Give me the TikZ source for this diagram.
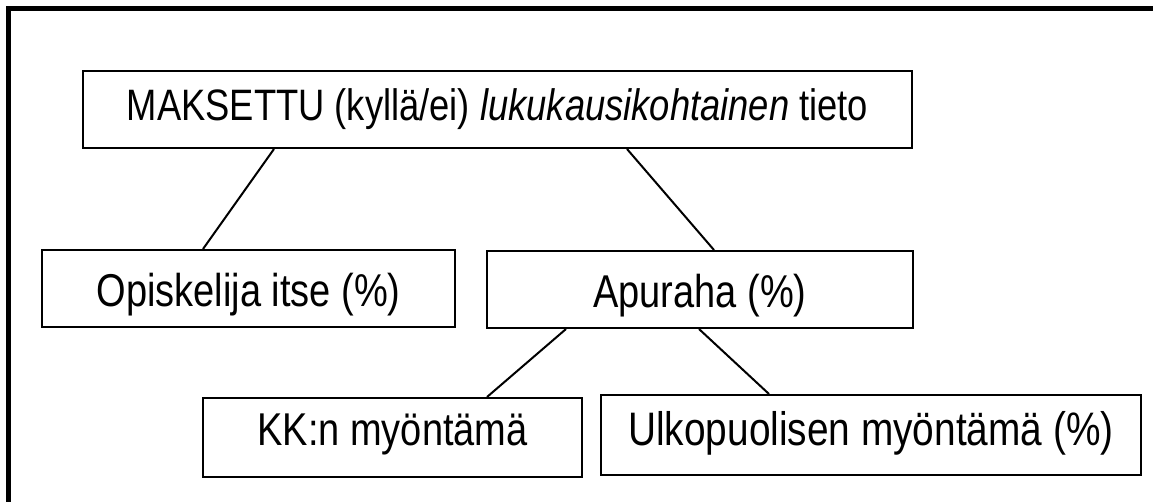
\documentclass[tikz,border=0pt]{standalone}
\usepackage{fontspec}
\setmainfont{Liberation Sans}[FakeStretch=0.826]
\usetikzlibrary{calc}
\tikzset{
  box/.style={draw=black, line width=2pt, rectangle, inner sep=0pt, fill=white, align=center},
  conn/.style={draw=black, line width=2pt},
  frame/.style={draw=black, line width=4.5pt, line join=miter}
}
\begin{document}
\begin{tikzpicture}[x=1pt,y=-1pt]
\useasboundingbox (0,0) rectangle (1153,501);
\fill[white] (0,0) rectangle (1153,501);
\draw[frame] (1160,8.5) -- (8.5,8.5) -- (8.5,510);

\node[box, minimum width=829pt, minimum height=77pt, text height=31pt, text depth=10pt,
  font=\fontsize{44}{50}\selectfont] (top) at (497.5,109.5)
  {MAKSETTU (kyllä/ei) \textit{lukukausikohtainen} tieto};
\node[box, minimum width=413pt, minimum height=77pt, text height=36pt, text depth=0pt,
  font=\fontsize{46}{52}\selectfont] (opis) at (248.5,288.5) {Opiskelija itse (\%)};
\node[box, minimum width=426pt, minimum height=77pt, text height=36pt, text depth=0pt,
  font=\fontsize{46}{52}\selectfont] (apu) at (700,289.5) {Apuraha (\%)};
\node[box, minimum width=379pt, minimum height=79pt, text height=25pt, text depth=10pt,
  font=\fontsize{46}{52}\selectfont] (kk) at (392.5,437.5) {KK:n myöntämä};
\node[box, minimum width=540pt, minimum height=80pt, text height=30pt, text depth=10pt,
  font=\fontsize{47}{53}\selectfont] (ulko) at (871,435) {Ulkopuolisen myöntämä (\%)};

\draw[conn] ($(top.south west)+(192,0)$) -- ($(opis.north west)+(162,0)$);
\draw[conn] ($(top.south west)+(545,0)$) -- ($(apu.north west)+(228,0)$);
\draw[conn] ($(apu.south west)+(80,0)$) -- ($(kk.north west)+(285,0)$);
\draw[conn] ($(apu.south west)+(213,0)$) -- ($(ulko.north west)+(169,0)$);
\end{tikzpicture}
\end{document}
